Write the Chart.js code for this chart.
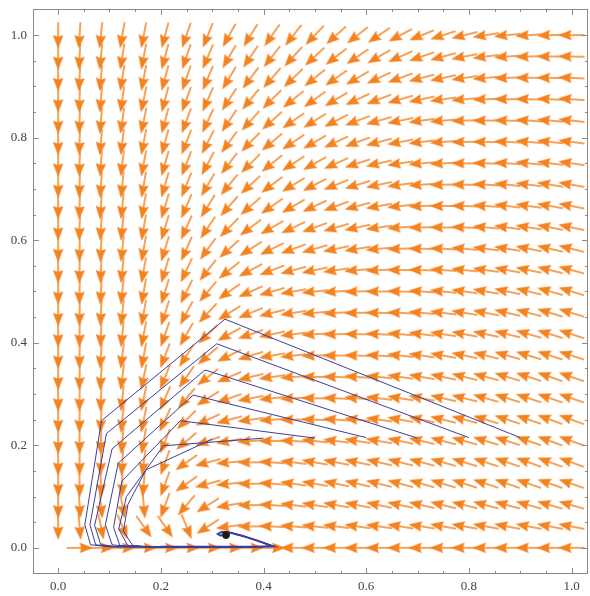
<!DOCTYPE html>
<html>
<head>
<meta charset="utf-8">
<script src="https://cdn.jsdelivr.net/npm/chart.js@4.4.1/dist/chart.umd.min.js"></script>
<style>
  html, body { margin: 0; padding: 0; background: #fff; }
  #wrap { width: 590px; height: 596px; }
</style>
</head>
<body>
<div id="wrap"><canvas id="chart" width="590" height="596"></canvas></div>
<script>
// grid of the direction field (x across, y up)
var gridX = [0, 0.0417, 0.0833, 0.125, 0.1667, 0.2083, 0.25, 0.2917, 0.3333, 0.375, 0.4167, 0.4583, 0.5,
             0.5417, 0.5833, 0.625, 0.6667, 0.7083, 0.75, 0.7917, 0.8333, 0.875, 0.9167, 0.9583, 1.0];
var gridY = gridX.slice();

// arrow direction in degrees (0 = right, 90 = up, 180 = left, 270 = down), one row per gridY
var fieldAngles = [
  [null,0,0,0,0,0,0,0,0,0,0,180,180,180,180,180,180,180,180,180,180,180,180,180,180],
  [270,275,282,292,305,305,292,213,188,180,177,175,174,173,172,172,171,171,170,170,170,169,169,169,169],
  [270,273,276,280,275,250,230,212,190,180,176,173,171,170,169,168,168,167,166,166,165,165,164,164,164],
  [270,271,272,270,265,250,215,195,186,180,176,172,170,168,167,166,165,164,163,162,162,161,161,161,161],
  [270,270,268,266,262,250,215,195,185,180,176,173,170,169,168,167,166,165,164,163,162,161,160,160,160],
  [270,270,268,265,260,248,220,200,190,184,180,177,174,173,171,170,168,167,165,164,163,162,161,160,160],
  [270,269,267,264,258,245,225,205,195,188,184,181,178,176,174,172,170,168,166,165,163,162,161,160,160],
  [270,269,267,264,258,247,230,212,199,191,186,183,179,177,175,173,171,169,167,166,164,163,162,161,161],
  [270,269,266,263,258,248,235,218,203,194,188,184,180,178,176,174,172,170,168,166,165,163,162,161,161],
  [270,269,266,263,259,249,237,221,206,197,190,186,182,180,178,176,174,172,170,168,166,164,163,162,162],
  [270,269,267,264,259,251,240,224,209,199,192,187,183,181,179,177,175,173,171,169,168,166,164,163,162],
  [270,269,267,264,260,252,242,227,212,202,194,189,185,183,181,179,177,175,173,171,169,167,165,163,163],
  [270,269,267,264,260,253,244,230,215,204,196,190,186,184,182,180,178,176,174,172,170,168,166,164,163],
  [270,269,267,264,260,253,245,232,219,208,201,195,192,188,185,183,180,178,176,174,172,169,168,166,165],
  [270,269,267,264,260,253,246,234,222,213,206,200,196,192,189,185,182,179,177,175,173,171,169,167,166],
  [270,268,266,264,260,253,246,236,226,217,210,205,200,196,192,188,184,181,179,177,175,172,171,169,168],
  [270,268,266,264,260,253,247,238,229,221,215,210,205,200,195,190,186,182,180,178,176,173,172,170,169],
  [270,268,266,264,260,254,248,240,231,223,217,211,207,202,197,192,188,184,181,179,177,174,173,171,170],
  [270,268,266,263,259,254,249,242,233,225,219,213,209,204,198,193,189,185,183,180,178,176,174,173,172],
  [270,268,265,263,259,255,249,243,234,226,220,214,210,205,200,195,191,187,184,181,179,177,175,174,173],
  [270,268,265,262,258,255,250,245,236,228,222,215,212,207,201,196,192,188,185,182,180,178,176,175,174],
  [270,268,265,262,258,255,250,246,237,231,225,219,216,211,205,201,196,192,188,185,182,180,178,177,176],
  [270,267,265,261,259,255,251,247,239,233,229,224,219,215,210,205,200,195,192,188,185,182,180,179,177],
  [270,267,264,261,259,255,251,247,240,236,232,228,223,218,214,210,204,199,195,191,187,184,182,180,179],
  [270,266,264,260,259,255,251,248,241,238,235,232,226,222,218,214,208,202,198,194,189,186,184,182,180]
];

// trajectories, one per starting point on y = 0.215
var path90x = [0.9, 0.325, 0.0845, 0.052, 0.063, 0.1];
var path90y = [0.215, 0.446, 0.248, 0.045, 0.006, 0.002];
var path80x = [0.8, 0.309, 0.094, 0.062, 0.073, 0.11];
var path80y = [0.215, 0.398, 0.223, 0.045, 0.006, 0.002];
var path70x = [0.7, 0.286, 0.105, 0.071, 0.083, 0.12];
var path70y = [0.214, 0.347, 0.193, 0.044, 0.006, 0.002];
var path60x = [0.6, 0.263, 0.117, 0.092, 0.105, 0.14];
var path60y = [0.215, 0.298, 0.165, 0.045, 0.006, 0.002];
var path50x = [0.5, 0.238, 0.124, 0.108, 0.12, 0.16];
var path50y = [0.214, 0.248, 0.13, 0.04, 0.005, 0.002];
var path40x = [0.4, 0.205, 0.133, 0.118, 0.135, 0.17];
var path40y = [0.214, 0.199, 0.1, 0.037, 0.005, 0.002];
var path30x = [0.3, 0.171, 0.136, 0.127, 0.145, 0.18];
var path30y = [0.212, 0.152, 0.085, 0.032, 0.005, 0.002];
// common end: along the axis and into the fixed point
var tailX = [0.2, 0.3, 0.38, 0.419, 0.405, 0.385, 0.36, 0.334, 0.318, 0.311, 0.316, 0.327];
var tailY = [0.002, 0.002, 0.002, 0.003, 0.008, 0.015, 0.023, 0.03, 0.031, 0.027, 0.024, 0.025];
var fixedPoint = {x: 0.327, y: 0.025};

var minorStep = 0.05;

// arrow glyph, pointing right, centred
var arrowImg = document.createElement('canvas');
arrowImg.width = 28;
arrowImg.height = 12;
(function() {
  var c = arrowImg.getContext('2d');
  c.strokeStyle = '#f4821f';
  c.fillStyle = '#f4821f';
  c.lineWidth = 1.5;
  c.beginPath();
  c.moveTo(1, 6);
  c.lineTo(16, 6);
  c.stroke();
  c.beginPath();
  c.moveTo(27.5, 6);
  c.lineTo(14, 0.8);
  c.lineTo(15.8, 6);
  c.lineTo(14, 11.2);
  c.closePath();
  c.fill();
})();

var arrowPoints = [];
gridY.forEach(function(yv, j) {
  gridX.forEach(function(xv, i) {
    var a = fieldAngles[j][i];
    if (a !== null) arrowPoints.push({x: xv, y: yv, a: a});
  });
});

function toPoints(xs, ys) {
  return xs.map(function(v, k) { return {x: v, y: ys[k]}; });
}

var paths = [[path90x, path90y], [path80x, path80y], [path70x, path70y], [path60x, path60y],
             [path50x, path50y], [path40x, path40y], [path30x, path30y]];

var datasets = [{
  label: 'field',
  data: arrowPoints,
  pointStyle: arrowImg,
  pointRadius: 3,
  rotation: function(ctx) { return ctx.raw ? -ctx.raw.a : 0; },
  showLine: false,
  order: 3
}];

paths.forEach(function(p) {
  datasets.push({
    data: toPoints(p[0].concat(tailX), p[1].concat(tailY)),
    showLine: true,
    borderColor: '#3d3d9c',
    borderWidth: 1,
    pointRadius: 0,
    tension: 0,
    order: 2
  });
});
datasets.push({
  data: toPoints(tailX, tailY),
  showLine: true,
  borderColor: '#3d3d9c',
  borderWidth: 2,
  pointRadius: 0,
  order: 2
});
datasets.push({
  data: [fixedPoint],
  pointRadius: 3.5,
  backgroundColor: '#1a1a1a',
  borderColor: '#1a1a1a',
  order: 1
});

var frameTicks = {
  id: 'frameTicks',
  afterDraw: function(chart) {
    var ctx = chart.ctx, a = chart.chartArea, x = chart.scales.x, y = chart.scales.y;
    ctx.save();
    ctx.strokeStyle = '#8a8a8a';
    ctx.lineWidth = 1;
    ctx.strokeRect(a.left + 0.5, a.top + 0.5, a.right - a.left - 1, a.bottom - a.top - 1);
    ctx.beginPath();
    for (var k = 0; k <= 20; k++) {
      var v = k * minorStep;
      var len = (k % 4 === 0) ? 6 : 3;
      var px = Math.round(x.getPixelForValue(v)) + 0.5;
      ctx.moveTo(px, a.bottom); ctx.lineTo(px, a.bottom - len);
      ctx.moveTo(px, a.top); ctx.lineTo(px, a.top + len);
      var py = Math.round(y.getPixelForValue(v)) + 0.5;
      ctx.moveTo(a.left, py); ctx.lineTo(a.left + len, py);
      ctx.moveTo(a.right, py); ctx.lineTo(a.right - len, py);
    }
    ctx.stroke();
    ctx.restore();
  }
};

function noPad(s) {
  s.paddingTop = 0; s.paddingBottom = 0; s.paddingLeft = 0; s.paddingRight = 0;
}

var tickFont = {family: "'Liberation Serif', 'Times New Roman', serif", size: 13};

new Chart(document.getElementById('chart').getContext('2d'), {
  type: 'scatter',
  data: {datasets: datasets},
  options: {
    responsive: false,
    devicePixelRatio: 1,
    animation: false,
    events: [],
    layout: {autoPadding: false, padding: {top: 9, right: 2, left: 0, bottom: 0}},
    plugins: {legend: {display: false}, tooltip: {enabled: false}},
    scales: {
      x: {
        type: 'linear', min: -0.049, max: 1.032,
        grid: {display: false, drawTicks: false},
        border: {display: false},
        ticks: {stepSize: 0.2, includeBounds: false, padding: 5, color: '#444', font: tickFont,
                callback: function(v) { return v.toFixed(1); }},
        afterFit: function(s) { s.height = 22; noPad(s); }
      },
      y: {
        type: 'linear', min: -0.051, max: 1.051,
        grid: {display: false, drawTicks: false},
        border: {display: false},
        ticks: {stepSize: 0.2, includeBounds: false, padding: 6, color: '#444', font: tickFont,
                callback: function(v) { return v.toFixed(1); }},
        afterFit: function(s) { s.width = 33; noPad(s); }
      }
    }
  },
  plugins: [frameTicks]
});
</script>
</body>
</html>
